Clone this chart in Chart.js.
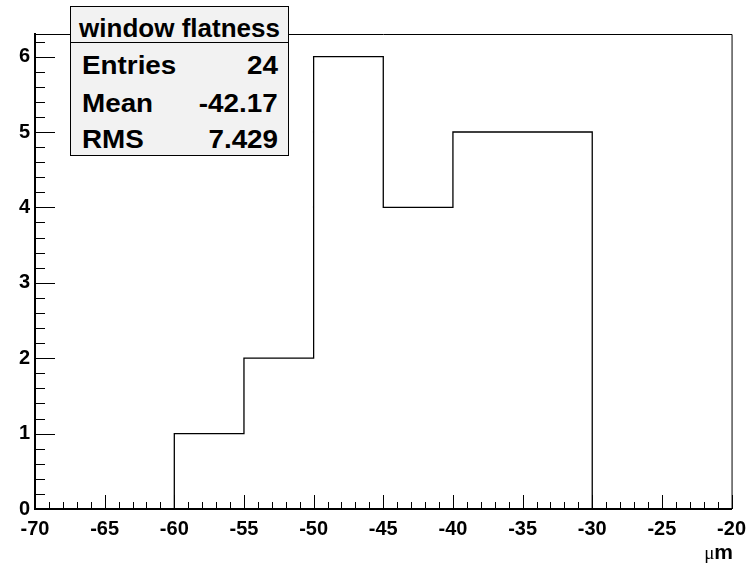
<!DOCTYPE html>
<html>
<head>
<meta charset="utf-8">
<script src="https://cdn.jsdelivr.net/npm/chart.js@4/dist/chart.umd.min.js"></script>
<style>
  html, body { margin:0; padding:0; background:#fff; }
  #wrap { position:relative; width:754px; height:565px; }
  #c { position:absolute; left:0; top:0; }
  .stats { position:absolute; left:70px; top:6px; width:219px; height:150px;
           background:#f2f2f2; border:1px solid #000; box-sizing:border-box;
           font-family:"Liberation Sans", Arial, sans-serif; font-weight:bold; color:#000; }
  .stats .title { position:absolute; left:0; top:0; width:217px; height:35px;
           border-bottom:1px solid #000; }
  .t { position:absolute; font-size:26px; line-height:26px; white-space:nowrap; }
  .unit { position:absolute; right:21px; top:541px; font-size:21px; line-height:22px;
          font-family:"Liberation Sans", Arial, sans-serif; white-space:nowrap; }
</style>
</head>
<body>
<div id="wrap">
  <canvas id="c" width="754" height="565"></canvas>
  <div class="stats">
    <div class="title"></div>
    <div class="t" style="left:0;width:217px;text-align:center;top:8px;">window flatness</div>
    <div class="t" style="left:11px;top:45px;transform-origin:left;transform:scaleX(1.07);">Entries</div>
    <div class="t" style="right:10px;top:45px;transform-origin:right;transform:scaleX(1.07);">24</div>
    <div class="t" style="left:11px;top:83px;transform-origin:left;transform:scaleX(1.07);">Mean</div>
    <div class="t" style="right:10px;top:83px;transform-origin:right;transform:scaleX(1.07);">-42.17</div>
    <div class="t" style="left:11px;top:119px;transform-origin:left;transform:scaleX(1.07);">RMS</div>
    <div class="t" style="right:10px;top:119px;transform-origin:right;transform:scaleX(1.07);">7.429</div>
  </div>
  <div class="unit"><span style="font-weight:normal;font-family:'Liberation Serif',serif;font-size:19px;">μ</span><span style="font-weight:bold;">m</span></div>
</div>
<script>
// Histogram data
const binEdges = [-60, -55, -50, -45, -40, -35, -30];
const counts   = [1, 2, 6, 4, 5, 5];
const xRange   = [-70, -20];
const yRange   = [0, 6.3];
const xTicks   = [-70, -65, -60, -55, -50, -45, -40, -35, -30, -25, -20];
const yTicks   = [0, 1, 2, 3, 4, 5, 6];

// Build step outline points from the bins
const pts = [{x: binEdges[0], y: 0}];
for (let i = 0; i < counts.length; i++) pts.push({x: binEdges[i], y: counts[i]});
pts.push({x: binEdges[binEdges.length - 1], y: counts[counts.length - 1]});
pts.push({x: binEdges[binEdges.length - 1], y: 0});

const tickFont = {family: "'Liberation Sans', Arial, sans-serif", weight: 'bold', size: 20};

const frameTicks = {
  id: 'frameTicks',
  afterDatasetsDraw(chart) {
    const {ctx, chartArea: a, scales: {x, y}} = chart;
    ctx.save();
    ctx.strokeStyle = '#000';
    ctx.lineWidth = 1;
    // top & right frame
    ctx.beginPath();
    ctx.moveTo(a.left, a.top + 0.5); ctx.lineTo(a.right + 0.5, a.top + 0.5);
    ctx.lineTo(a.right + 0.5, a.bottom);
    ctx.stroke();
    ctx.beginPath();
    // x ticks: major at labels, 4 minor between
    for (let i = 0; i < xTicks.length; i++) {
      for (let j = 0; j < 5; j++) {
        if (j > 0 && i === xTicks.length - 1) break;
        const v = xTicks[i] + j * (i < xTicks.length - 1 ? (xTicks[i + 1] - xTicks[i]) / 5 : 0);
        const px = Math.round(x.getPixelForValue(v)) + 0.5;
        const len = j === 0 ? 14 : 7;
        ctx.moveTo(px, a.bottom); ctx.lineTo(px, a.bottom - len);
      }
    }
    // y ticks: major at labels, 4 minor between, continuing above last label
    const dy = yTicks[1] - yTicks[0];
    for (let i = 0; i < yTicks.length; i++) {
      for (let j = 0; j < 5; j++) {
        const v = yTicks[i] + j * dy / 5;
        if (v > yRange[1] + 1e-9) break;
        const py = Math.round(y.getPixelForValue(v)) + 0.5;
        const len = j === 0 ? 20 : 10;
        ctx.moveTo(a.left, py); ctx.lineTo(a.left + len, py);
      }
    }
    ctx.stroke();
    ctx.restore();
  }
};

new Chart(document.getElementById('c'), {
  type: 'line',
  data: {
    datasets: [{
      data: pts,
      stepped: 'before',
      borderColor: '#000',
      borderWidth: 1.3,
      pointRadius: 0,
      fill: false,
      tension: 0
    }]
  },
  options: {
    responsive: false,
    animation: false,
    devicePixelRatio: 1,
    layout: {padding: {top: 34, right: 20, left: 0, bottom: 0}},
    plugins: {legend: {display: false}, tooltip: {enabled: false}},
    scales: {
      x: {
        type: 'linear', min: xRange[0], max: xRange[1],
        afterFit(s) { s.height = 56; },
        afterBuildTicks(s) { s.ticks = xTicks.map(v => ({value: v})); },
        grid: {display: false, drawTicks: false},
        border: {display: true, color: '#000', width: 2},
        ticks: {padding: 8, color: '#000', font: tickFont, maxRotation: 0,
                autoSkip: false, callback: v => String(v)}
      },
      y: {
        type: 'linear', min: yRange[0], max: yRange[1],
        afterFit(s) { s.width = 35; },
        afterBuildTicks(s) { s.ticks = yTicks.map(v => ({value: v})); },
        grid: {display: false, drawTicks: false},
        border: {display: true, color: '#000', width: 2},
        ticks: {padding: 5, color: '#000', font: tickFont,
                autoSkip: false, callback: v => String(v)}
      }
    }
  },
  plugins: [frameTicks]
});
</script>
</body>
</html>
